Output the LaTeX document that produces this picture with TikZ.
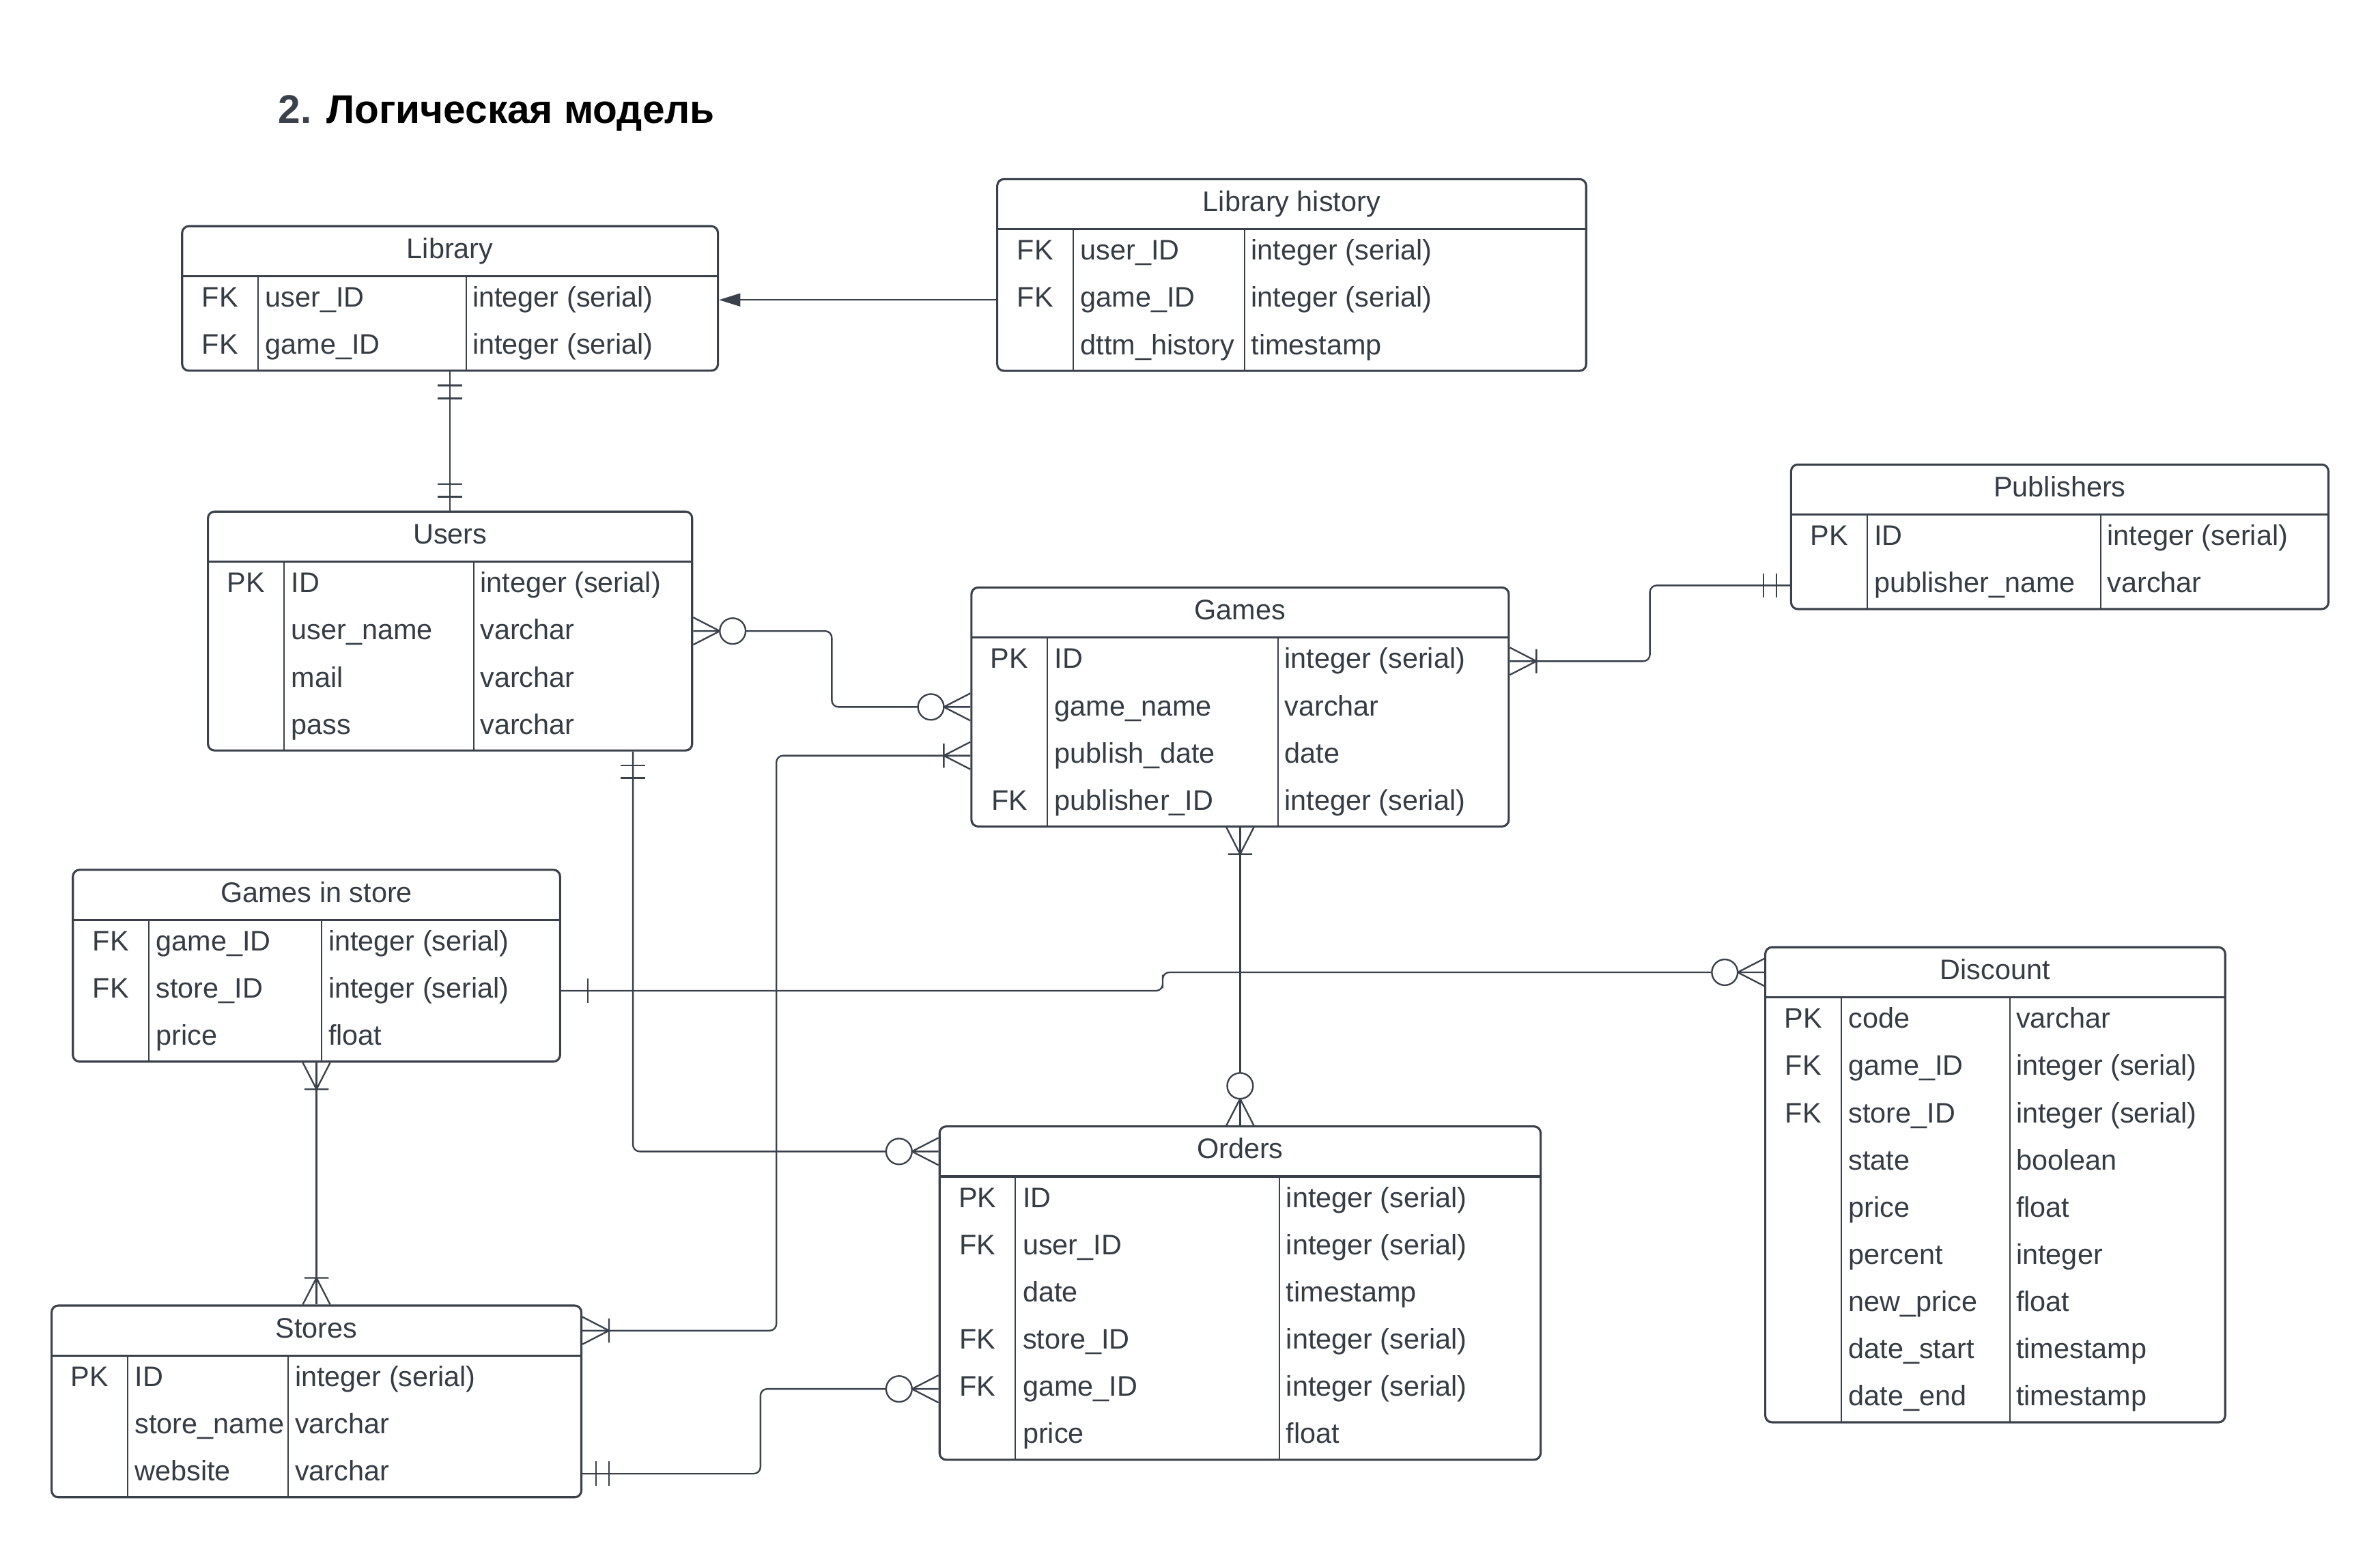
\documentclass[tikz,border=0pt]{standalone}
\usepackage{fontspec}
\setmainfont{Liberation Sans}
\usetikzlibrary{arrows.meta,calc,fit}

\definecolor{linec}{HTML}{3A414A}
\definecolor{inkc}{HTML}{363C44}
\newcommand{\tabfont}{\fontsize{10.6pt}{12pt}\selectfont}

% one table: name, left, top, right, type column x, rows, title, fields
\newcommand{\ertable}[8]{%
  \node[tbl, fit={(#2,#3) (#4,{#3+33+31.1*#6})}] (#1) {};
  \draw[tblline] (#2,{#3+33}) -- (#4,{#3+33});
  \draw[colline] ({#2+50},{#3+33}) -- ({#2+50},{#3+33+31.1*#6});
  \draw[colline] (#5,{#3+33}) -- (#5,{#3+33+31.1*#6});
  \node[cell, anchor=center] (#1-t) at ({(#2+#4)/2},{#3+16.5}) {#7};
  \foreach \k/\f/\t [count=\i] in {#8} {
    \node[cell, anchor=center] (#1-k\i) at ({#2+25},{#3+33+31.1*(\i-0.5)}) {\k};
    \node[cell] (#1-f\i) at ({#2+54.5},{#3+33+31.1*(\i-0.5)}) {\f};
    \node[cell] (#1-d\i) at ({#5+4},{#3+33+31.1*(\i-0.5)}) {\t};
  }
}

\tikzset{
  tbl/.style={draw=linec, line width=0.8pt, rounded corners=2.5pt, inner sep=0pt},
  tblline/.style={draw=linec, line width=0.8pt},
  colline/.style={draw=linec, line width=0.5pt},
  cell/.style={font=\tabfont, text=inkc, inner sep=0pt, anchor=west,
    text height=7.6pt, text depth=2.2pt},
  conn/.style={draw=linec, line width=0.6pt},
  elbow/.style={rounded corners=2.5pt},
  % ends, x pointing away from the table
  erone/.pic={\draw[conn] (17.5,-8) -- (17.5,8);},
  eroneone/.pic={\draw[conn] (9,-8) -- (9,8) (17.5,-8) -- (17.5,8);},
  eromany/.pic={\draw[conn] (0,-9) -- (17.5,0) -- (0,9) (17.5,-8) -- (17.5,8);},
  erzmany/.pic={\draw[conn] (0,-9) -- (17.5,0) -- (0,9);
    \draw[conn, fill=white] (26,0) circle (8.5);},
}

\begin{document}
\begin{tikzpicture}[x=0.02cm, y=-0.02cm]
  \useasboundingbox (0,0) rectangle (1568,1021);

  \node[anchor=base west, inner sep=0pt, font=\bfseries\fontsize{15pt}{18pt}\selectfont]
    (title) at (183,81) {\textcolor{linec}{2.} Логическая модель};

  % tables
  \ertable{lib}{120}{149}{473}{307}{2}{Library}{FK/user\_ID/integer (serial), FK/game\_ID/integer (serial)}
  \ertable{libh}{657}{118}{1045}{820}{3}{Library history}{FK/user\_ID/integer (serial), FK/game\_ID/integer (serial), /dttm\_history/timestamp}
  \ertable{pub}{1180}{306}{1534}{1384}{2}{Publishers}{PK/ID/integer (serial), /publisher\_name/varchar}
  \ertable{users}{137}{337}{456}{312}{4}{Users}{PK/ID/integer (serial), /user\_name/varchar, /mail/varchar, /pass/varchar}
  \ertable{games}{640}{387}{994}{842}{4}{Games}{PK/ID/integer (serial), /game\_name/varchar, /publish\_date/date, FK/publisher\_ID/integer (serial)}
  \ertable{gis}{48}{573}{369}{212}{3}{Games in store}{FK/game\_ID/integer (serial), FK/store\_ID/integer (serial), /price/float}
  \ertable{disc}{1163}{624}{1466}{1324}{9}{Discount}{PK/code/varchar, FK/game\_ID/integer (serial), FK/store\_ID/integer (serial), /state/boolean, /price/float, /percent/integer, /new\_price/float, /date\_start/timestamp, /date\_end/timestamp}
  \ertable{orders}{619}{742}{1015}{843}{6}{Orders}{PK/ID/integer (serial), FK/user\_ID/integer (serial), /date/timestamp, FK/store\_ID/integer (serial), FK/game\_ID/integer (serial), /price/float}
  \ertable{stores}{34}{860}{383}{190}{3}{Stores}{PK/ID/integer (serial), /store\_name/varchar, /website/varchar}

  % connectors
  \draw[conn, -{Triangle[length=0.28cm, width=0.17cm]}] (libh.west |- lib-f1) -- (lib.east |- lib-f1);
  \draw[conn] (lib.south) -- (users.north);
  \draw[conn, elbow] (users.east) -| ($(users.east)!.5!(games.west)$) |- (games.west);
  \draw[conn, elbow] (games.east |- games-f1) -| ($(games.east |- games-f1)!.5!(pub.west |- pub-f2)$) |- (pub.west |- pub-f2);
  \draw[conn] (games.south) -- (orders.north);
  \draw[conn, elbow] (gis.east |- gis-f2) -| ($(gis.east |- gis-f2)!.5!(disc.west |- disc-t)$) |- (disc.west |- disc-t);
  \coordinate (usrout) at ($(users.south)+(120.5,0)$);
  \draw[conn, elbow] (usrout) |- (orders.west |- orders-t);
  \draw[conn, elbow] (games.west |- games-f3) -| ($(games.west |- games-f3)!.5!(stores.east |- stores-t)$) |- (stores.east |- stores-t);
  \draw[conn, elbow] (stores.east |- stores-d3) -| ($(stores.east |- stores-d3)!.5!(orders.west |- orders-f5)$) |- (orders.west |- orders-f5);
  \draw[conn] (gis.south) -- (stores.north);

  % connector ends
  \pic[rotate=-90] at (lib.south) {eroneone};
  \pic[rotate=90] at (users.north) {eroneone};
  \pic at (users.east) {erzmany};
  \pic[rotate=180] at (games.west) {erzmany};
  \pic at (games.east |- games-f1) {eromany};
  \pic[rotate=180] at (pub.west |- pub-f2) {eroneone};
  \pic[rotate=-90] at (games.south) {eromany};
  \pic[rotate=90] at (orders.north) {erzmany};
  \pic at (gis.east |- gis-f2) {erone};
  \pic[rotate=180] at (disc.west |- disc-t) {erzmany};
  \pic[rotate=-90] at (usrout) {eroneone};
  \pic[rotate=180] at (orders.west |- orders-t) {erzmany};
  \pic[rotate=180] at (games.west |- games-f3) {eromany};
  \pic at (stores.east |- stores-t) {eromany};
  \pic at (stores.east |- stores-d3) {eroneone};
  \pic[rotate=180] at (orders.west |- orders-f5) {erzmany};
  \pic[rotate=-90] at (gis.south) {eromany};
  \pic[rotate=90] at (stores.north) {eromany};
\end{tikzpicture}
\end{document}
